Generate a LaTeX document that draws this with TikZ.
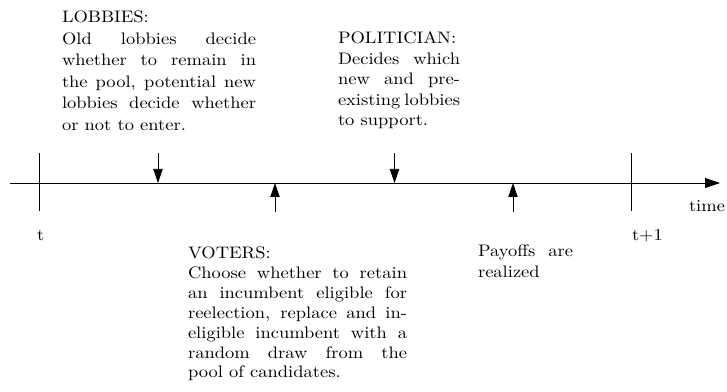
\documentclass[tikz,border=0pt]{standalone}
\usepackage{graphicx}
\usetikzlibrary{arrows.meta}
\newcommand{\sx}[1]{\scalebox{1.11}[1]{#1}}
\newcommand{\blk}[3]{\sx{\parbox[t]{#1}{\hyphenpenalty=10000\tolerance=10000\hbadness=10000\baselineskip=#2\relax #3}}}
\tikzset{
  txt/.style={inner sep=0pt, outer sep=0pt, anchor=base west, font=\fontsize{10pt}{12pt}\selectfont},
  axisline/.style={line width=0.45pt, -{Triangle[length=9pt,width=6pt]}},
  tickline/.style={line width=0.45pt},
  evt/.style={line width=0.45pt, -{Triangle[length=8.4pt,width=5.6pt]}},
}
\begin{document}
\begin{tikzpicture}[x=0.6pt, y=-0.6pt]
\useasboundingbox (0,0) rectangle (727,392);
% axis
\coordinate (as) at (10,183);
\coordinate (ae) at (720,183);
\draw[axisline] (as) -- (ae);
% ticks
\coordinate (k0a) at (39,153); \coordinate (k0b) at (39,211);
\coordinate (k1a) at (631,153); \coordinate (k1b) at (631,211);
\draw[tickline] (k0a) -- (k0b);
\draw[tickline] (k1a) -- (k1b);
% event arrows
\coordinate (d1s) at (158,153); \coordinate (d1e) at (158,183);
\coordinate (u1s) at (275,212); \coordinate (u1e) at (275,183);
\coordinate (d2s) at (394.5,153); \coordinate (d2e) at (394.5,183);
\coordinate (u2s) at (513,212); \coordinate (u2e) at (513,183);
\draw[evt] (d1s) -- (d1e);
\draw[evt] (u1s) -- (u1e);
\draw[evt] (d2s) -- (d2e);
\draw[evt] (u2s) -- (u2e);
% labels
\node[txt] (tlab) at (37,241) {\sx{t}};
\node[txt] (t1lab) at (632,241) {\sx{t+1}};
\node[txt] (timelab) at (689,212) {\sx{time}};
% text blocks
\node[txt] (lob) at (62,23) {\blk{104.9pt}{12.9pt}{LOBBIES:\\
Old lobbies decide\linebreak whether to remain in\linebreak the pool, potential new\linebreak lobbies decide whether\linebreak or not to enter.}};
\node[txt] (pol) at (338,44) {\blk{66pt}{12.3pt}{POLITICIAN:\\
Decides which\linebreak new and pre-\linebreak existing lobbies\linebreak to support.}};
\node[txt] (vot) at (188,259) {\blk{118.4pt}{11.9pt}{VOTERS:\\
Choose whether to retain\linebreak an incumbent eligible for\linebreak reelection, replace and in-\linebreak eligible incumbent with a\linebreak random draw from the\linebreak pool of candidates.}};
\node[txt] (pay) at (478,257) {\blk{51.4pt}{12.6pt}{Payoffs are\linebreak realized}};
\end{tikzpicture}
\end{document}
